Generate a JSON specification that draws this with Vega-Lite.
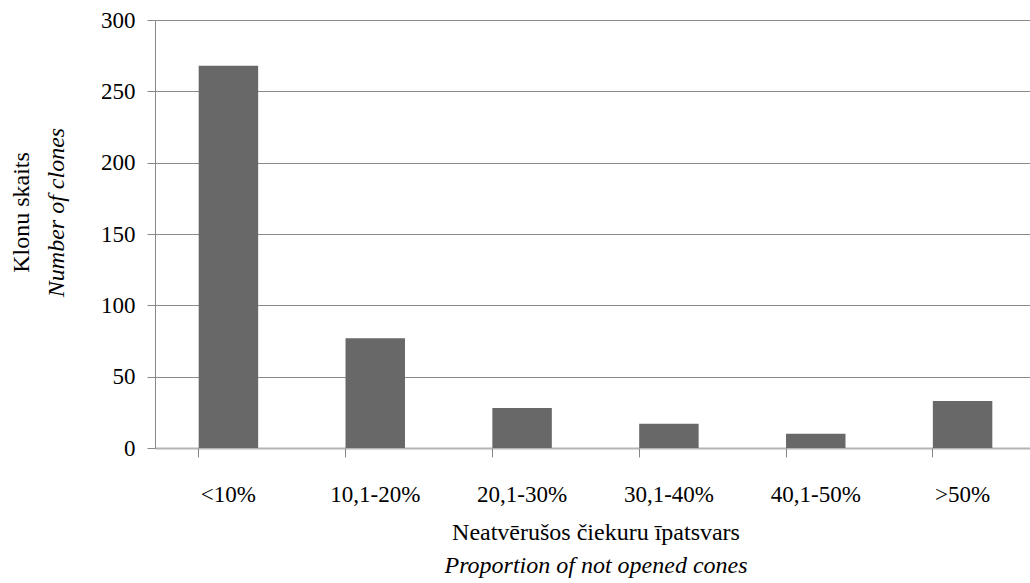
{
  "$schema": "https://vega.github.io/schema/vega-lite/v6.json",
  "autosize": "none",
  "padding": {"left": 155, "top": 20, "right": 0, "bottom": 135},
  "width": 875,
  "height": 428,
  "background": "white",
  "config": {
    "view": {"stroke": null},
    "font": "Liberation Serif",
    "axis": {"labelFont": "Liberation Serif", "titleFont": "Liberation Serif", "labelColor": "#000000", "titleColor": "#000000", "titleFontWeight": "normal"}
  },
  "data": {
    "values": [
      {"kategorija": "<10%", "skaits": 268},
      {"kategorija": "10,1-20%", "skaits": 77},
      {"kategorija": "20,1-30%", "skaits": 28},
      {"kategorija": "30,1-40%", "skaits": 17},
      {"kategorija": "40,1-50%", "skaits": 10},
      {"kategorija": ">50%", "skaits": 33}
    ]
  },
  "encoding": {
    "x": {
      "field": "kategorija",
      "type": "nominal",
      "sort": null,
      "scale": {"range": [0, 881], "paddingInner": 0.595, "paddingOuter": 0.2975}
    },
    "y": {
      "field": "skaits",
      "type": "quantitative",
      "scale": {"domain": [0, 300], "nice": false}
    }
  },
  "layer": [
    {
      "mark": {"type": "bar", "color": "#686868", "clip": false},
      "encoding": {
        "x": {
          "field": "kategorija",
          "type": "nominal",
          "sort": null,
          "axis": {
            "orient": "bottom",
            "title": "Neatvērušos čiekuru īpatsvars",
            "titleFont": "Liberation Serif",
            "titleFontSize": 24,
            "titleX": 440.5,
            "titleY": 91,
            "titleAnchor": null,
            "titleAlign": "center",
            "titleBaseline": "alphabetic",
            "labelAngle": 0,
            "labelFont": "Liberation Serif",
            "labelFontSize": 23,
            "labelBaseline": "alphabetic",
            "labelPadding": 53,
            "ticks": false,
            "domain": true,
            "domainColor": "#b3b3b3",
            "domainWidth": 2,
            "grid": false
          }
        },
        "y": {
          "field": "skaits",
          "type": "quantitative",
          "axis": {
            "orient": "left",
            "title": "Klonu skaits",
            "titleFont": "Liberation Serif",
            "titleFontSize": 24,
            "titleAngle": -90,
            "titleX": -127,
            "titleY": 192,
            "titleAnchor": null,
            "titleAlign": "center",
            "titleBaseline": "alphabetic",
            "values": [0, 50, 100, 150, 200, 250, 300],
            "labelFont": "Liberation Serif",
            "labelFontSize": 23,
            "labelPadding": 12,
            "ticks": true,
            "tickSize": 8,
            "tickColor": "#888888",
            "domain": true,
            "domainColor": "#888888",
            "grid": true,
            "gridColor": "#8a8a8a",
            "gridOpacity": 1,
            "gridWidth": 1
          }
        }
      }
    },
    {
      "mark": {"type": "bar", "opacity": 0, "clip": false},
      "encoding": {
        "x": {
          "field": "kategorija",
          "type": "nominal",
          "sort": null,
          "axis": {
            "orient": "bottom",
            "title": "Proportion of not opened cones",
            "titleFont": "Liberation Serif",
            "titleFontSize": 24,
            "titleFontStyle": "italic",
            "titleX": 440.5,
            "titleY": 124,
            "titleAnchor": null,
            "titleAlign": "center",
            "titleBaseline": "alphabetic",
            "bandPosition": 0,
            "labels": false,
            "ticks": true,
            "tickSize": 9,
            "tickColor": "#888888",
            "domain": false,
            "grid": false
          }
        },
        "y": {
          "field": "skaits",
          "type": "quantitative",
          "axis": {
            "orient": "left",
            "title": "Number of clones",
            "titleFont": "Liberation Serif",
            "titleFontSize": 24,
            "titleFontStyle": "italic",
            "titleAngle": -90,
            "titleX": -92,
            "titleY": 192,
            "titleAnchor": null,
            "titleAlign": "center",
            "titleBaseline": "alphabetic",
            "labels": false,
            "ticks": false,
            "domain": false,
            "grid": false
          }
        }
      }
    }
  ],
  "resolve": {"axis": {"x": "independent", "y": "independent"}}
}
